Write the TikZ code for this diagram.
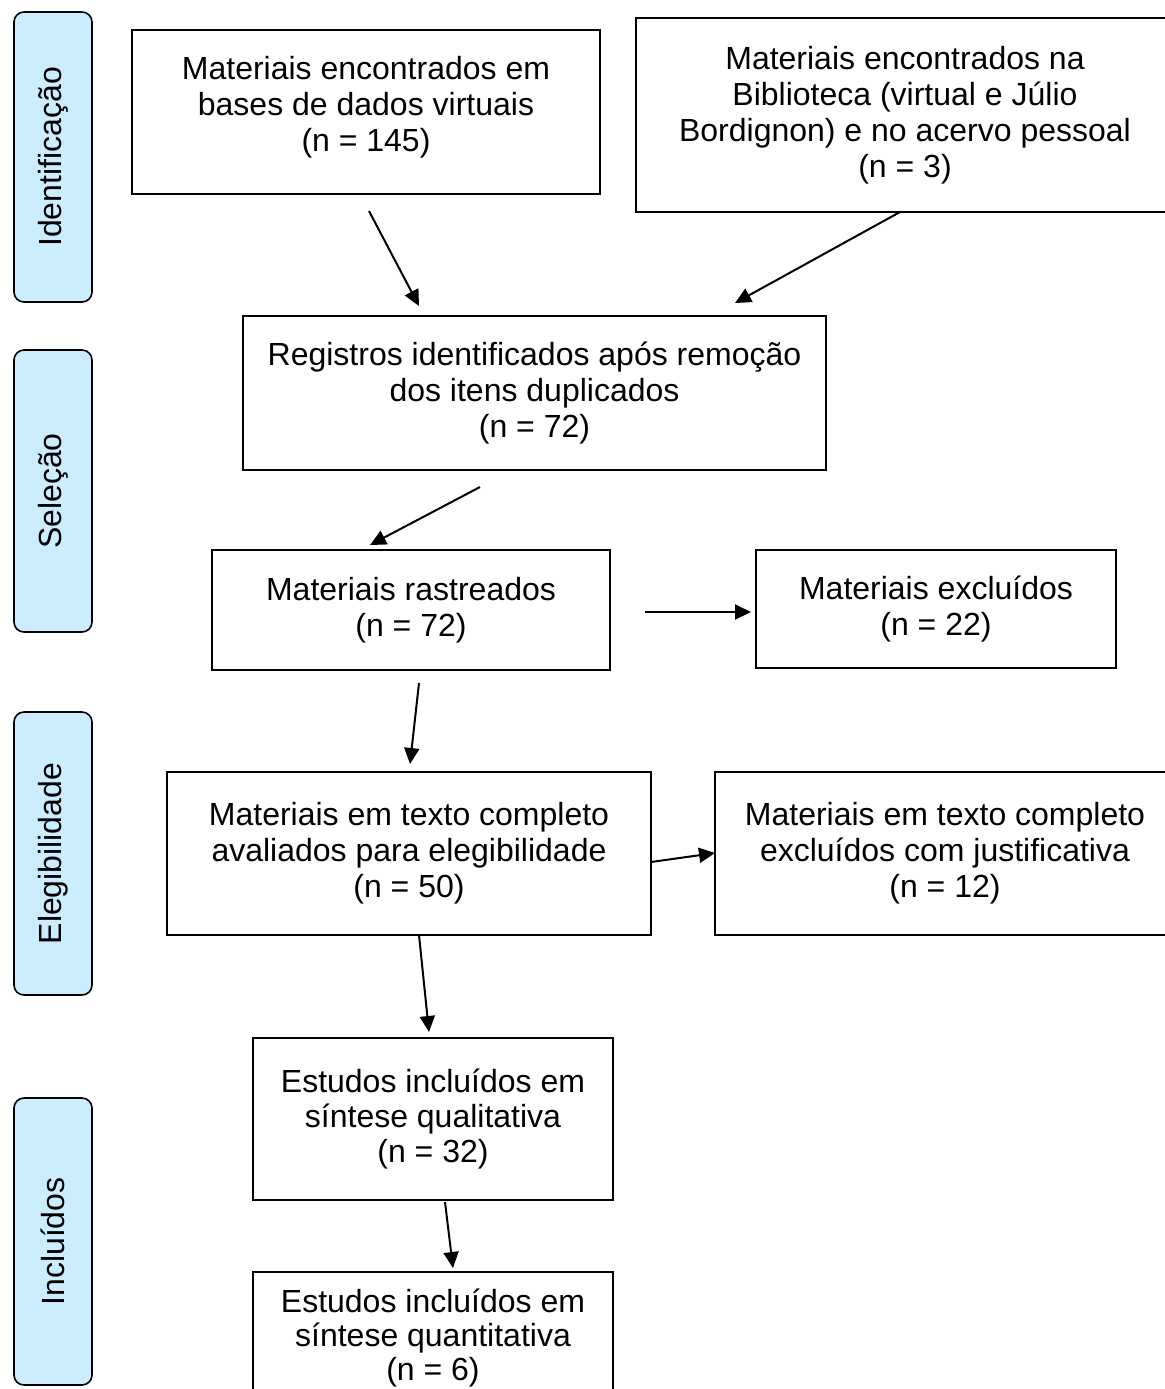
\documentclass[tikz,border=0pt]{standalone}
\usepackage{fontspec}
\setmainfont{Liberation Sans}
\usetikzlibrary{arrows.meta}
\definecolor{sideblue}{HTML}{CCECFF}
\tikzset{
  pbox/.style={draw, line width=1pt, inner sep=0pt, align=center,
    font=\fontsize{16}{18}\selectfont},
  sidebox/.style={draw, line width=0.8pt, fill=sideblue, rounded corners=5pt,
    inner sep=0pt, minimum width=39pt, font=\fontsize{16}{18}\selectfont},
  flow/.style={line width=1pt, -{Triangle[length=8pt,width=7.5pt]}}
}
\begin{document}
\begin{tikzpicture}[x=0.5pt,y=-0.5pt]
\useasboundingbox (0,0) rectangle (1165,1389);
% side labels
\node[sidebox, minimum height=145pt] (sid) at (53,157) {\rotatebox{90}{Identificação}};
\node[sidebox, minimum height=141pt] (ssel) at (53,491) {\rotatebox{90}{Seleção}};
\node[sidebox, minimum height=141.5pt] (seleg) at (53,853.5) {\rotatebox{90}{Elegibilidade}};
\node[sidebox, minimum height=143.5pt] (sinc) at (53,1241.5) {\rotatebox{90}{Incluídos}};
% boxes
\node[pbox, minimum width=234pt, minimum height=82pt, text depth=8pt] (b1) at (366,112)
  {Materiais encontrados em\\bases de dados virtuais\\(n = 145)};
\node[pbox, minimum width=269pt, minimum height=97pt] (b2) at (905,115)
  {Materiais encontrados na\\Biblioteca (virtual e Júlio\\Bordignon) e no acervo pessoal\\(n = 3)};
\node[pbox, minimum width=291.5pt, minimum height=77pt] (b3) at (534.5,393)
  {Registros identificados após remoção\\dos itens duplicados\\(n = 72)};
\node[pbox, minimum width=199pt, minimum height=60pt] (b4) at (411,610)
  {Materiais rastreados\\(n = 72)};
\node[pbox, minimum width=180pt, minimum height=59pt] (b5) at (936,609)
  {Materiais excluídos\\(n = 22)};
\node[pbox, minimum width=242pt, minimum height=81.5pt] (b6) at (409,853.5)
  {Materiais em texto completo\\avaliados para elegibilidade\\(n = 50)};
\node[pbox, minimum width=230pt, minimum height=81.5pt] (b7) at (945,853.5)
  {Materiais em texto completo\\excluídos com justificativa\\(n = 12)};
\node[pbox, minimum width=180pt, minimum height=81pt, font=\fontsize{16}{17.5}\selectfont] (b8) at (433,1119)
  {Estudos incluídos em\\síntese qualitativa\\(n = 32)};
\node[pbox, minimum width=180pt, minimum height=73pt, text depth=10pt, font=\fontsize{16}{17}\selectfont] (b9) at (433,1345)
  {Estudos incluídos em\\síntese quantitativa\\(n = 6)};
% arrow endpoints
\coordinate (a1s) at (369,211); \coordinate (a1e) at (419,306);
\coordinate (a2s) at (900,212); \coordinate (a2e) at (735,303);
\coordinate (a3s) at (480,487); \coordinate (a3e) at (370,545);
\coordinate (a4s) at (645,612); \coordinate (a4e) at (751,612);
\coordinate (a5s) at (419,683); \coordinate (a5e) at (410,764);
\coordinate (a6s) at (651,862); \coordinate (a6e) at (715,853);
\coordinate (a7s) at (419,935); \coordinate (a7e) at (429,1032);
\coordinate (a8s) at (445,1202); \coordinate (a8e) at (453,1268);
\draw[flow] (a1s) -- (a1e);
\draw[flow] (a2s) -- (a2e);
\draw[flow] (a3s) -- (a3e);
\draw[flow] (a4s) -- (a4e);
\draw[flow] (a5s) -- (a5e);
\draw[flow] (a6s) -- (a6e);
\draw[flow] (a7s) -- (a7e);
\draw[flow] (a8s) -- (a8e);
\end{tikzpicture}
\end{document}
